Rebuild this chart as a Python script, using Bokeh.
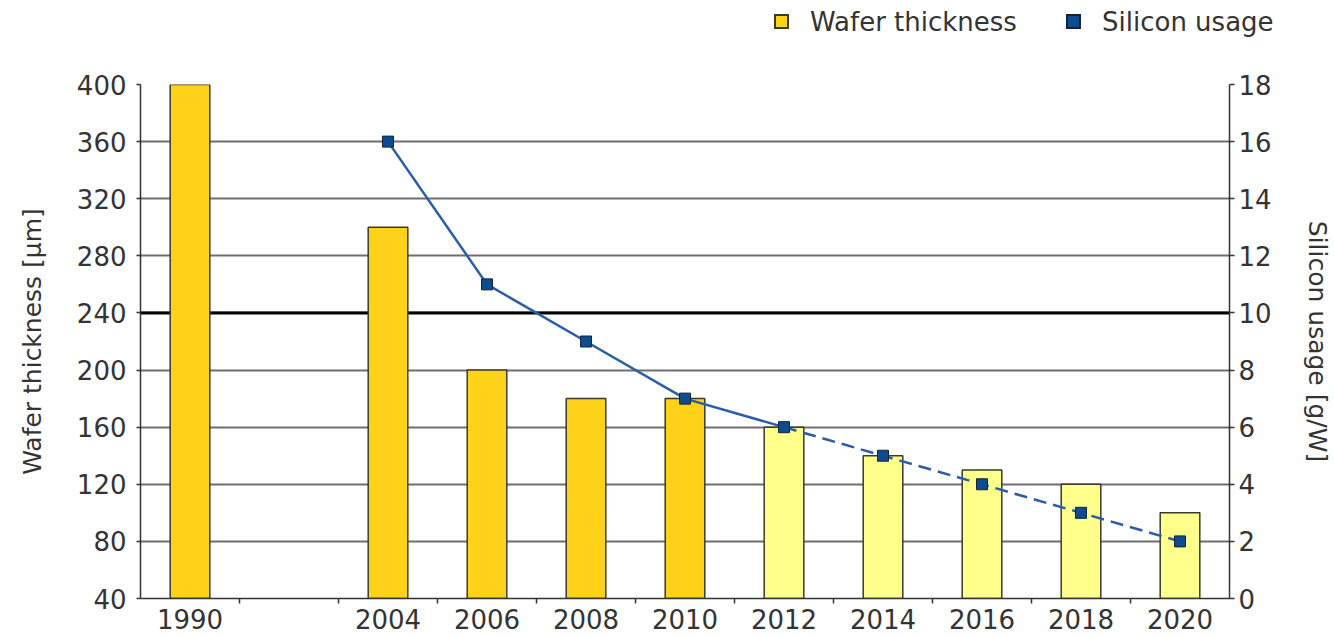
from bokeh.plotting import figure
from bokeh.layouts import column
from bokeh.models import (Range1d, LinearAxis, FixedTicker, ColumnDataSource,
                          Span, Div)
from bokeh.embed import file_html
from bokeh.resources import INLINE

# Category slots along the x axis (the blank slot marks the gap in the series)
slot_labels = ["1990", "", "2004", "2006", "2008", "2010", "2012", "2014", "2016", "2018", "2020"]

# Wafer thickness in micrometres
wafer_years = [1990, 2004, 2006, 2008, 2010, 2012, 2014, 2016, 2018, 2020]
wafer_thickness = [400, 300, 200, 180, 180, 160, 140, 130, 120, 100]

# Silicon usage in grams per watt
silicon_years = [2004, 2006, 2008, 2010, 2012, 2014, 2016, 2018, 2020]
silicon_usage = [16, 11, 9, 7, 6, 5, 4, 3, 2]

thickness_ticks = [40, 80, 120, 160, 200, 240, 280, 320, 360, 400]
usage_ticks = [0, 2, 4, 6, 8, 10, 12, 14, 16, 18]

series_names = ["Wafer thickness", "Silicon usage"]

# Values from this year on are projections
FIRST_PROJECTED_YEAR = 2012

FONT = "DejaVu Sans"
TEXT = "#333333"
GOLD = "#FFD21A"
PALE = "#FFFF8C"
BAR_EDGE = "#3a3a2a"
LINE_BLUE = "#2A5CAA"
MARKER_BLUE = "#0E4C8F"
MARKER_EDGE = "#14243a"

W = 1334
HEADER_H = 64
MAIN_H = 637 - HEADER_H


def slot_center(year):
    return slot_labels.index(str(year)) + 0.5


# ---- main chart -----------------------------------------------------------
p = figure(width=W, height=MAIN_H, output_backend="svg", toolbar_location=None,
           x_range=Range1d(0, len(slot_labels)),
           y_range=Range1d(thickness_ticks[0], thickness_ticks[-1]),
           min_border_left=140, min_border_right=104,
           min_border_top=20, min_border_bottom=39)
p.outline_line_color = None
p.background_fill_color = "white"
p.border_fill_color = "white"
p.extra_y_ranges = {"usage": Range1d(usage_ticks[0], usage_ticks[-1])}

# Grid (drawn beneath the bars)
p.xgrid.grid_line_color = None
p.ygrid.ticker = FixedTicker(ticks=thickness_ticks)
p.ygrid.grid_line_color = "#6e6e6e"
p.ygrid.grid_line_width = 2
p.add_layout(Span(location=240, dimension="width", line_color="black",
                  line_width=3, level="underlay"))

# Wafer thickness bars
bar_src = ColumnDataSource(dict(
    x=[slot_center(y) for y in wafer_years],
    top=wafer_thickness,
    color=[GOLD if y < FIRST_PROJECTED_YEAR else PALE for y in wafer_years],
))
p.vbar(x="x", top="top", bottom=0, width=0.4, source=bar_src,
       fill_color="color", line_color=BAR_EDGE, line_width=1.5)

# Silicon usage line: measured part solid, projected part dashed
measured = [(slot_center(y), v) for y, v in zip(silicon_years, silicon_usage)
            if y <= FIRST_PROJECTED_YEAR]
projected = [(slot_center(y), v) for y, v in zip(silicon_years, silicon_usage)
             if y >= FIRST_PROJECTED_YEAR]
p.line([a for a, _ in measured], [b for _, b in measured], y_range_name="usage",
       line_color=LINE_BLUE, line_width=2.5)
p.line([a for a, _ in projected], [b for _, b in projected], y_range_name="usage",
       line_color=LINE_BLUE, line_width=2.5, line_dash="13 7")
p.scatter([slot_center(y) for y in silicon_years], silicon_usage,
          y_range_name="usage", marker="square", size=11,
          fill_color=MARKER_BLUE, line_color=MARKER_EDGE, line_width=1)

# Axes
xa = p.xaxis[0]
xa.ticker = FixedTicker(ticks=[i + 0.5 for i in range(len(slot_labels))],
                        minor_ticks=list(range(1, len(slot_labels))))
xa.major_label_overrides = {i + 0.5: lab for i, lab in enumerate(slot_labels)}
xa.major_tick_out = 0
xa.major_tick_in = 0
xa.minor_tick_line_color = "#333333"
xa.minor_tick_line_width = 1.5
xa.minor_tick_out = 5
xa.minor_tick_in = 0
xa.major_label_standoff = 5

ya = p.yaxis[0]
ya.ticker = FixedTicker(ticks=thickness_ticks)
ya.minor_tick_line_color = None
ya.major_tick_out = 4
ya.major_tick_in = 0
ya.major_label_standoff = 10
ya.axis_label = "Wafer thickness [µm]"
ya.axis_label_standoff = 27

yr = LinearAxis(y_range_name="usage", ticker=FixedTicker(ticks=usage_ticks))
yr.minor_tick_line_color = None
yr.major_tick_out = 5
yr.major_tick_in = 0
yr.major_label_standoff = 4
yr.axis_label = "Silicon usage [g/W]"
yr.axis_label_standoff = 28
p.add_layout(yr, "right")

for ax in (xa, ya, yr):
    ax.axis_line_color = "#333333"
    ax.axis_line_width = 1.5
    ax.major_tick_line_color = "#333333" if ax is not xa else None
    ax.major_tick_line_width = 1.5
    ax.major_label_text_font = FONT
    ax.major_label_text_font_size = "26px"
    ax.major_label_text_color = TEXT
    ax.axis_label_text_font = FONT
    ax.axis_label_text_font_size = "25px"
    ax.axis_label_text_font_style = "normal"
    ax.axis_label_text_color = TEXT

# ---- key strip above the chart ------------------------------------------
def key_entry(left, swatch, edge, label):
    return (
        f'<span style="position:absolute;left:{left}px;top:14px;width:15px;height:15px;'
        f'background:{swatch};border:2px solid {edge};"></span>'
        f'<span style="position:absolute;left:{left + 36}px;top:9px;line-height:26px;'
        f'white-space:nowrap;">{label}</span>'
    )


header_html = (
    f'<div style="position:relative;width:{W}px;height:{HEADER_H}px;'
    f'font-family:\'{FONT}\';font-size:26px;color:{TEXT};background:white;">'
    + key_entry(774, GOLD, BAR_EDGE, series_names[0])
    + key_entry(1066, MARKER_BLUE, MARKER_EDGE, series_names[1])
    + '</div>'
)
header = Div(text=header_html, width=W, height=HEADER_H, margin=0)

layout = column(header, p, spacing=0)
open("out.html", "w").write(file_html(layout, INLINE))
